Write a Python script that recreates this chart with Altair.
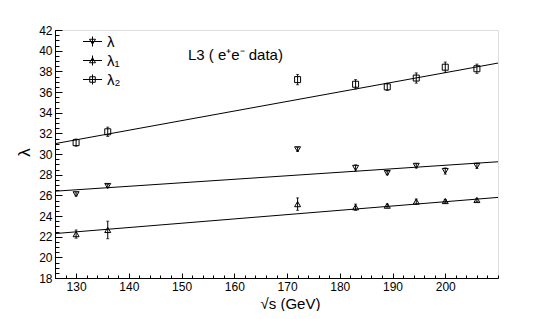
import altair as alt
import pandas as pd

# ---- data ----
energies = [130, 136, 172, 183, 189, 194.5, 200, 206]
series_names = ["λ", "λ₁", "λ₂"]
lam = [26.1, 26.9, 30.45, 28.65, 28.15, 28.85, 28.35, 28.85]
lam_err = [0.15, 0.15, 0.2, 0.3, 0.15, 0.2, 0.3, 0.25]
lam1 = [22.25, 22.65, 25.15, 24.85, 25.0, 25.4, 25.45, 25.55]
lam1_err = [0.4, 0.85, 0.6, 0.3, 0.15, 0.25, 0.15, 0.15]
lam2 = [31.1, 32.15, 37.2, 36.75, 36.5, 37.35, 38.4, 38.25]
lam2_err = [0.35, 0.45, 0.5, 0.45, 0.35, 0.5, 0.5, 0.45]

fit_x = [126, 210]
fit_lam = [26.4, 29.25]
fit_lam1 = [22.3, 25.8]
fit_lam2 = [31.0, 38.8]

x_domain = [126, 210]
y_domain = [18, 42]
x_major = [130, 140, 150, 160, 170, 180, 190, 200]
x_minor = list(range(126, 211, 2))
y_major = list(range(18, 43, 2))
y_minor = [18 + 0.5 * i for i in range(49)]

annot_text = "L3 ( e⁺e⁻ data)"
annot_x = 151.2
annot_y = 39.6

FONT = "Liberation Sans"

# ---- tables ----
rows = []
for name, vals, errs in zip(series_names, [lam, lam1, lam2], [lam_err, lam1_err, lam2_err]):
    for e, v, er in zip(energies, vals, errs):
        rows.append({"E": e, "val": v, "lo": v - er, "hi": v + er, "series": name})
pts = pd.DataFrame(rows)

frows = []
for name, ys_ in zip(series_names, [fit_lam, fit_lam1, fit_lam2]):
    for xx, yy in zip(fit_x, ys_):
        frows.append({"E": xx, "val": yy, "series": name})
fits = pd.DataFrame(frows)

annot = pd.DataFrame({"E": [annot_x], "val": [annot_y], "t": [annot_text]})

xs = alt.Scale(domain=x_domain, nice=False, zero=False)
ys = alt.Scale(domain=y_domain, nice=False, zero=False)

main_x_axis = alt.Axis(
    orient="bottom", values=x_major, ticks=False, grid=False, domainColor="black",
    labelFont=FONT, labelFontSize=12, labelColor="black", labelPadding=3,
    title="√s  (GeV)", titleFont=FONT, titleFontSize=15, titleFontWeight="normal",
    titleColor="black", titleX=235, titleY=30, titleBaseline="alphabetic",
    titleAlign="center", labelFlush=False,
)
main_y_axis = alt.Axis(
    orient="left", values=y_major, ticks=False, grid=False, domainColor="black",
    labelFont=FONT, labelFontSize=12, labelColor="black", labelPadding=3,
    title="λ", titleFont=FONT, titleFontSize=17, titleFontWeight="normal",
    titleColor="black", titleX=-31, titleY=122, titleAngle=-90,
    titleBaseline="middle", titleAlign="center", labelFlush=False,
)

def tick_axis(orient, values, size):
    return alt.Axis(orient=orient, values=values, labels=False, domain=False,
                    ticks=True, tickSize=size, offset=-size, tickColor="black",
                    tickWidth=1, grid=False, title=None)

fit_layer = alt.Chart(fits).mark_line(color="black", strokeWidth=1).encode(
    x=alt.X("E:Q", scale=xs, axis=main_x_axis),
    y=alt.Y("val:Q", scale=ys, axis=main_y_axis),
    detail="series:N",
)

point_layer = alt.Chart(pts).mark_point(filled=False, color="black", strokeWidth=1, size=36, opacity=1).encode(
    x=alt.X("E:Q", scale=xs, axis=tick_axis("bottom", x_major, 5)),
    y=alt.Y("val:Q", scale=ys, axis=tick_axis("left", y_major, 7)),
    shape=alt.Shape("series:N", scale=alt.Scale(domain=series_names,
                    range=["triangle-down", "triangle-up", "square"]), legend=None),
)

err_layer = alt.Chart(pts).mark_rule(color="black", strokeWidth=1).encode(
    x=alt.X("E:Q", scale=xs, axis=tick_axis("bottom", x_minor, 3)),
    y=alt.Y("lo:Q", scale=ys, axis=tick_axis("left", y_minor, 4)),
    y2="hi:Q",
)

cap_lo = alt.Chart(pts).mark_tick(orient="horizontal", size=3, thickness=1, color="black").encode(
    x=alt.X("E:Q", scale=xs, axis=None),
    y=alt.Y("lo:Q", scale=ys, axis=None),
)
cap_hi = alt.Chart(pts).mark_tick(orient="horizontal", size=3, thickness=1, color="black").encode(
    x=alt.X("E:Q", scale=xs, axis=None),
    y=alt.Y("hi:Q", scale=ys, axis=None),
)

leg_paths = [
    "M-1.9,0H1.9M0,-1V1M-0.6,-0.45L0.6,-0.45L0,0.55Z",
    "M-1.9,0H1.9M0,-1V1M-0.6,0.45L0.6,0.45L0,-0.55Z",
    "M-1.9,0H1.9M0,-1V1M-0.55,-0.55H0.55V0.55H-0.55Z",
]
legend_layer = alt.Chart(pts).mark_point(filled=False, color="black", opacity=0, size=1).encode(
    x=alt.X("E:Q", scale=xs, axis=None),
    y=alt.Y("val:Q", scale=ys, axis=None),
    shape=alt.Shape("series:N", scale=alt.Scale(domain=series_names, range=leg_paths),
                    legend=alt.Legend(title=None, orient="none", legendX=30, legendY=4,
                                      symbolSize=100, symbolOpacity=1, symbolStrokeColor="black",
                                      symbolFillColor="transparent", symbolStrokeWidth=1,
                                      labelFont=FONT, labelFontSize=15, labelColor="black",
                                      labelOffset=7, rowPadding=3, padding=0)),
)

text_layer = alt.Chart(annot).mark_text(font=FONT, fontSize=15, align="left",
                                        baseline="middle", color="black").encode(
    x=alt.X("E:Q", scale=xs, axis=None),
    y=alt.Y("val:Q", scale=ys, axis=None),
    text="t:N",
)

chart = alt.layer(
    fit_layer, point_layer, err_layer, cap_lo, cap_hi, legend_layer, text_layer
).resolve_axis(x="independent", y="independent").resolve_scale(shape="independent").properties(
    width=443, height=248,
    autosize=alt.AutoSizeParams(type="none"),
    padding={"left": 47, "top": 22, "right": 48, "bottom": 33},
).configure_view(stroke="black", strokeWidth=1).configure(background="white")

chart.save("out.html", embed_options={"renderer": "svg", "actions": False})
